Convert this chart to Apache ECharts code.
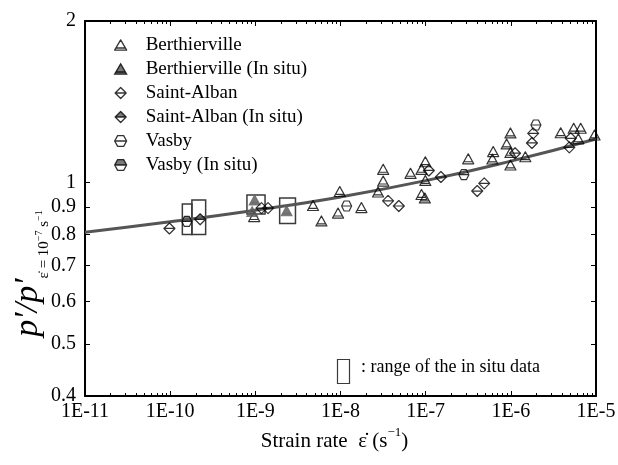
<!DOCTYPE html>
<html>
<head>
<meta charset="utf-8">
<script src="https://cdn.jsdelivr.net/npm/echarts@6/dist/echarts.min.js"></script>
<style>
html,body{margin:0;padding:0;background:#fff;}
#chart{width:618px;height:465px;}
</style>
</head>
<body>
<div id="chart"></div>
<script>
// ---- data (x: strain rate in 1/s, y: normalized p') ----
var berthierville = [
  [9.69e-10,0.864],[4.76e-9,0.906],[5.97e-9,0.848],[9.80e-9,0.962],[9.36e-9,0.877],
  [1.76e-8,0.898],[2.76e-8,0.960],[3.17e-8,1.058],[3.17e-8,1.006],[6.64e-8,1.040],
  [8.94e-8,1.058],[9.91e-8,1.093],[9.91e-8,1.009],[8.94e-8,0.950],[9.78e-8,0.936],
  [3.16e-7,1.107],[6.21e-7,1.142],[6.08e-7,1.106],[8.93e-7,1.180],[9.89e-7,1.237],
  [9.89e-7,1.138],[9.89e-7,1.078],[1.48e-6,1.117],[3.85e-6,1.238],[5.47e-6,1.262],
  [6.61e-6,1.262],[6.20e-6,1.206],[9.61e-6,1.226]
];
var berthiervilleInSitu = [[9.82e-10,0.928],[9.18e-10,0.883],[2.33e-9,0.886]];
var saintAlban = [
  [9.8e-11,0.821],[1.18e-9,0.896],[1.41e-9,0.896],[3.62e-8,0.924],[4.84e-8,0.904],
  [1.09e-7,1.053],[1.51e-7,1.024],[4.03e-7,0.964],[4.87e-7,0.996],[1.12e-6,1.134],
  [1.83e-6,1.235],[1.77e-6,1.185],[5.05e-6,1.209],[4.86e-6,1.163]
];
var saintAlbanInSitu = [[2.25e-10,0.854]];
var vasby = [[1.18e-8,0.904],[2.81e-7,1.034],[1.97e-6,1.280]];
var vasbyInSitu = [[1.57e-10,0.846]];
// fitted curve
var fitRates = [1e-11,1e-10,1e-9,1e-8,1e-7,1e-6,1e-5];
var fitValues = [0.808,0.845,0.888,0.940,1.008,1.096,1.205];
// in situ ranges [xmin,xmax,ymin,ymax]
var inSituRanges = [
  [1.39e-10,1.80e-10,0.800,0.912],
  [1.80e-10,2.61e-10,0.800,0.928],
  [7.97e-10,1.30e-9,0.874,0.948],
  [1.93e-9,2.96e-9,0.839,0.936]
];
// axes
var xDecades = [-11,-10,-9,-8,-7,-6,-5];
var xTickLabels = ['1E-11','1E-10','1E-9','1E-8','1E-7','1E-6','1E-5'];
var yTickValues = [0.4,0.5,0.6,0.7,0.8,0.9,1,2];
var yTickLabels = ['0.4','0.5','0.6','0.7','0.8','0.9','1','2'];
var seriesNames = ['Berthierville','Berthierville (In situ)','Saint-Alban','Saint-Alban (In situ)','Vasby','Vasby (In situ)'];

// ---- build ----
var L = Math.log10;
function tr(arr){ return arr.map(function(p){ return [L(p[0]), L(p[1])]; }); }
var xMinor = [];
xDecades.slice(0,-1).forEach(function(d){ for(var k=2;k<=9;k++) xMinor.push(d+L(k)); });
var yTicksLog = yTickValues.map(L);
var FONT = '"Liberation Serif","Times New Roman",serif';

var SYM = {
  tri: 'path://M0,-10 L11,9 L-11,9 Z M-8.7,5 L8.7,5',
  dia: 'path://M0,-10 L10,0 L0,10 L-10,0 Z M-10,0 L10,0',
  diaHalf: 'path://M-10,0 L0,-10 L10,0 Z M-10,0 L0,10 L10,0 L0,10 Z',
  hex: 'path://M-10,0 L-5,-9 L5,-9 L10,0 L5,9 L-5,9 Z M-10,0 L10,0',
  hexHalf: 'path://M-10,0 L-5,-9 L5,-9 L10,0 Z M-10,0 L-5,9 L5,9 L10,0 L5,9 L-5,9 Z'
};
var open = {color:'rgba(0,0,0,0)', borderColor:'#000', borderWidth:1.2, borderJoin:'round'};
var gray = {color:'#5a5a5a', borderColor:'#000', borderWidth:1.2, borderJoin:'round'};

function scat(name, data, sym, size, style){
  return {type:'scatter', name:name, data:tr(data), symbol:sym, symbolSize:size,
    itemStyle:style, emphasis:{disabled:true}, z:3};
}

var series = [
  scat(seriesNames[0], berthierville, SYM.tri, [11,10], open),
  scat(seriesNames[1], berthiervilleInSitu, SYM.tri, [11,10], {color:'#555', borderColor:'#666', borderWidth:1}),
  scat(seriesNames[2], saintAlban, SYM.dia, [11,11], open),
  scat(seriesNames[3], saintAlbanInSitu, SYM.diaHalf, [11,11], gray),
  scat(seriesNames[4], vasby, SYM.hex, [10,10], open),
  scat(seriesNames[5], vasbyInSitu, SYM.hexHalf, [10,10], gray),
  {type:'line', name:'fit', data:fitRates.map(function(x,i){return [L(x), L(fitValues[i])];}),
   smooth:true, showSymbol:false, lineStyle:{color:'#555', width:3}, z:2, silent:true,
   markArea:{silent:true, itemStyle:{color:'rgba(0,0,0,0)', borderColor:'#3a3a3a', borderWidth:1.5},
     data: inSituRanges.map(function(r){ return [{coord:[L(r[0]),L(r[2])]},{coord:[L(r[1]),L(r[3])]}]; })}
  }
];

var axisLine = {show:true, onZero:false, lineStyle:{color:'#000', width:2}};
var noLine = {show:false, onZero:false};
var chart = echarts.init(document.getElementById('chart'), null, {renderer:'canvas'});
chart.setOption({
  animation:false,
  backgroundColor:'#fff',
  grid:{left:85, right:22, top:21, bottom:69, containLabel:false, outerBoundsMode:'none'},
  legend:{
    data:seriesNames, orient:'vertical', left:109, top:30, itemWidth:12, itemHeight:11, itemGap:4,
    itemStyle:{borderWidth:1.3, borderColor:'#000'},
    textStyle:{fontFamily:FONT, fontSize:19, color:'#000', lineHeight:20, padding:[0,0,0,14]},
    selectedMode:false
  },
  xAxis:[
    {type:'value', min:-11, max:-5, interval:1, position:'bottom', axisLine:axisLine,
     axisTick:{inside:true, length:5, lineStyle:{color:'#000', width:1}},
     axisLabel:{margin:6, fontFamily:FONT, fontSize:20, color:'#000',
       formatter:function(v){ var i = xDecades.indexOf(Math.round(v)); return i>=0 ? xTickLabels[i] : ''; }},
     splitLine:{show:false},
     name:'{n|Strain rate  ε̇ (s}{s|−1}{n|)}', nameLocation:'middle', nameGap:30, nameMoveOverlap:false,
     nameTextStyle:{padding:[0,12,0,0], rich:{n:{fontFamily:FONT, fontSize:21, color:'#000', lineHeight:26, verticalAlign:'bottom'},
                          s:{fontFamily:FONT, fontSize:13, color:'#000', lineHeight:26, verticalAlign:'top'}}}},
    {type:'value', min:-11, max:-5, position:'bottom', axisLine:noLine, axisLabel:{show:false}, splitLine:{show:false},
     axisTick:{inside:true, length:3, customValues:xMinor, lineStyle:{color:'#000', width:1}}},
    {type:'value', min:-11, max:-5, interval:1, position:'top', axisLine:axisLine, axisLabel:{show:false}, splitLine:{show:false},
     axisTick:{inside:true, length:5, lineStyle:{color:'#000', width:1}}},
    {type:'value', min:-11, max:-5, position:'top', axisLine:noLine, axisLabel:{show:false}, splitLine:{show:false},
     axisTick:{inside:true, length:3, customValues:xMinor, lineStyle:{color:'#000', width:1}}}
  ],
  yAxis:[
    {type:'value', min:L(0.4), max:L(2), position:'left', axisLine:axisLine, splitLine:{show:false},
     axisTick:{inside:true, length:5, customValues:yTicksLog, lineStyle:{color:'#000', width:1}},
     axisLabel:{margin:9, customValues:yTicksLog, fontFamily:FONT, fontSize:20, color:'#000',
       formatter:function(v){ var best=0; yTicksLog.forEach(function(t,i){ if(Math.abs(t-v)<Math.abs(yTicksLog[best]-v)) best=i; }); return yTickLabels[best]; }},
     name:'{p|p′/p′}{b|ε̇ = 10}{c|−7}{b| s}{c|−1}', nameLocation:'middle', nameGap:33, nameRotate:90, nameMoveOverlap:false,
     nameTextStyle:{padding:[0,130,0,0], rich:{
       p:{fontFamily:FONT, fontStyle:'italic', fontSize:34, color:'#000', lineHeight:38, verticalAlign:'bottom', padding:[0,0,7,0]},
       b:{fontFamily:FONT, fontSize:15, color:'#000', lineHeight:17, verticalAlign:'bottom'},
       c:{fontFamily:FONT, fontSize:10, color:'#000', lineHeight:11, verticalAlign:'bottom', padding:[0,0,8,0]}
     }}},
    {type:'value', min:L(0.4), max:L(2), position:'right', axisLine:axisLine, splitLine:{show:false}, axisLabel:{show:false},
     axisTick:{inside:true, length:5, customValues:yTicksLog, lineStyle:{color:'#000', width:1}}}
  ],
  graphic:[
    {type:'rect', left:335, top:357, shape:{width:12, height:24}, style:{fill:'none', stroke:'#3a3a3a', lineWidth:1.2}},
    {type:'text', left:361, top:358, style:{text:': range of the in situ data', font:'18px "Liberation Serif", serif', fill:'#000'}}
  ],
  series:series
});
</script>
</body>
</html>
